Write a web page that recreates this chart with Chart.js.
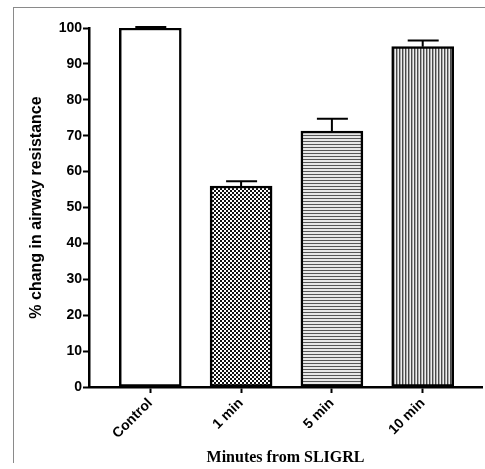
<!DOCTYPE html>
<html>
<head>
<meta charset="utf-8">
<script src="https://cdn.jsdelivr.net/npm/chart.js@4"></script>
<style>
  body{ margin:0; background:#fff; }
  #wrap{ position:relative; width:485px; height:469px; overflow:hidden; }
  #frame{
    position:absolute; left:13px; top:7px; width:480px; height:455px;
    border-left:1px solid #8a8a8a; border-top:1px solid #8a8a8a;
  }
  canvas{ position:absolute; left:0; top:0; }
</style>
</head>
<body>
<div id="wrap">
  <div id="frame"></div>
  <canvas id="chart" width="485" height="469"></canvas>
</div>
<script>

/* =========================================
   DATA
========================================= */

const groups  = ['Control','1 min','5 min','10 min'];
const meanVal = [100, 56.0, 71.3, 94.8];
const semVal  = [0.3, 1.3, 3.4, 1.7];
const yTicks  = [0,10,20,30,40,50,60,70,80,90,100];


/* =========================================
   PATTERNS
========================================= */

function makePattern(w,h,draw){
  const c = document.createElement('canvas');
  c.width = w; c.height = h;
  const g = c.getContext('2d');
  draw(g);
  return g.createPattern(c,'repeat');
}

const patWhite = '#ffffff';

const patCheck = makePattern(4,4,(g)=>{
  g.fillStyle = '#ffffff';
  g.fillRect(0,0,4,4);
  g.fillStyle = '#111111';
  g.fillRect(0,0,2,2);
  g.fillRect(2,2,2,2);
});

const patHoriz = makePattern(3,3,(g)=>{
  g.fillStyle = '#e6e6e6';
  g.fillRect(0,0,3,3);
  g.fillStyle = '#555555';
  g.fillRect(0,0,3,1);
});

const patVert = makePattern(3,3,(g)=>{
  g.fillStyle = '#eeeeee';
  g.fillRect(0,0,3,3);
  g.fillStyle = '#4a4a4a';
  g.fillRect(0,0,1,3);
  g.fillStyle = '#aaaaaa';
  g.fillRect(1,0,1,3);
});


/* =========================================
   ERROR BARS (upper only)
========================================= */

const errorBars = {
  id:'errorBars',
  afterDatasetsDraw(chart){
    const ctx = chart.ctx;
    const xs = chart.scales.x;
    const ys = chart.scales.y;
    ctx.save();
    ctx.strokeStyle = '#000';
    ctx.lineWidth = 2;
    meanVal.forEach((v,i)=>{
      const x = xs.getPixelForValue(i);
      const yb = ys.getPixelForValue(v);
      const yt = ys.getPixelForValue(v + semVal[i]);
      ctx.beginPath();
      ctx.moveTo(x,yb);
      ctx.lineTo(x,yt);
      ctx.moveTo(x-15,yt);
      ctx.lineTo(x+16,yt);
      ctx.stroke();
    });
    ctx.restore();
  }
};


/* =========================================
   CHART
========================================= */

new Chart(document.getElementById('chart'),{

  type:'bar',

  data:{
    datasets:[{
      data: meanVal.map((v,i)=>({x:i, y:v})),
      backgroundColor:[patWhite,patCheck,patHoriz,patVert],
      borderColor:'#000',
      borderWidth:2.5,
      borderSkipped:false,
      barThickness:62
    }]
  },

  options:{

    responsive:false,
    animation:false,

    layout:{
      padding:{top:28,right:3,bottom:0,left:0}
    },

    plugins:{
      legend:{display:false},
      tooltip:{enabled:false}
    },

    scales:{

      x:{
        type:'linear',
        offset:false,
        min:-0.675,
        max:3.653,
        afterBuildTicks(scale){
          scale.ticks = groups.map((g,i)=>({value:i}));
        },
        afterFit(scale){
          scale.height = 82;
        },
        ticks:{
          autoSkip:false,
          minRotation:45,
          maxRotation:45,
          padding:2,
          color:'#000',
          font:{family:'Liberation Sans, Arial, sans-serif', size:14, weight:'bold'},
          callback:(v)=>groups[v]
        },
        grid:{
          offset:false,
          drawOnChartArea:false,
          drawTicks:true,
          tickLength:6,
          tickWidth:2,
          tickColor:'#000'
        },
        border:{display:true, color:'#000', width:2.5},
        title:{
          display:true,
          text:'Minutes from SLIGRL',
          color:'#000',
          font:{family:'Liberation Serif, Times New Roman, serif', size:16, weight:'bold'},
          padding:{top:0,bottom:2}
        }
      },

      y:{
        min:0,
        max:100,
        afterBuildTicks(scale){
          scale.ticks = yTicks.map(v=>({value:v}));
        },
        afterFit(scale){
          scale.width = 89;
        },
        ticks:{
          padding:1,
          color:'#000',
          font:{family:'Liberation Sans, Arial, sans-serif', size:14, weight:'bold'}
        },
        grid:{
          drawOnChartArea:false,
          drawTicks:true,
          tickLength:6,
          tickWidth:2,
          tickColor:'#000'
        },
        border:{display:true, color:'#000', width:2.5},
        title:{
          display:true,
          text:'% chang in airway resistance',
          color:'#000',
          font:{family:'Liberation Sans, Arial, sans-serif', size:16, weight:'bold'},
          padding:{top:27,bottom:0}
        }
      }

    }

  },

  plugins:[errorBars]

});

</script>
</body>
</html>
